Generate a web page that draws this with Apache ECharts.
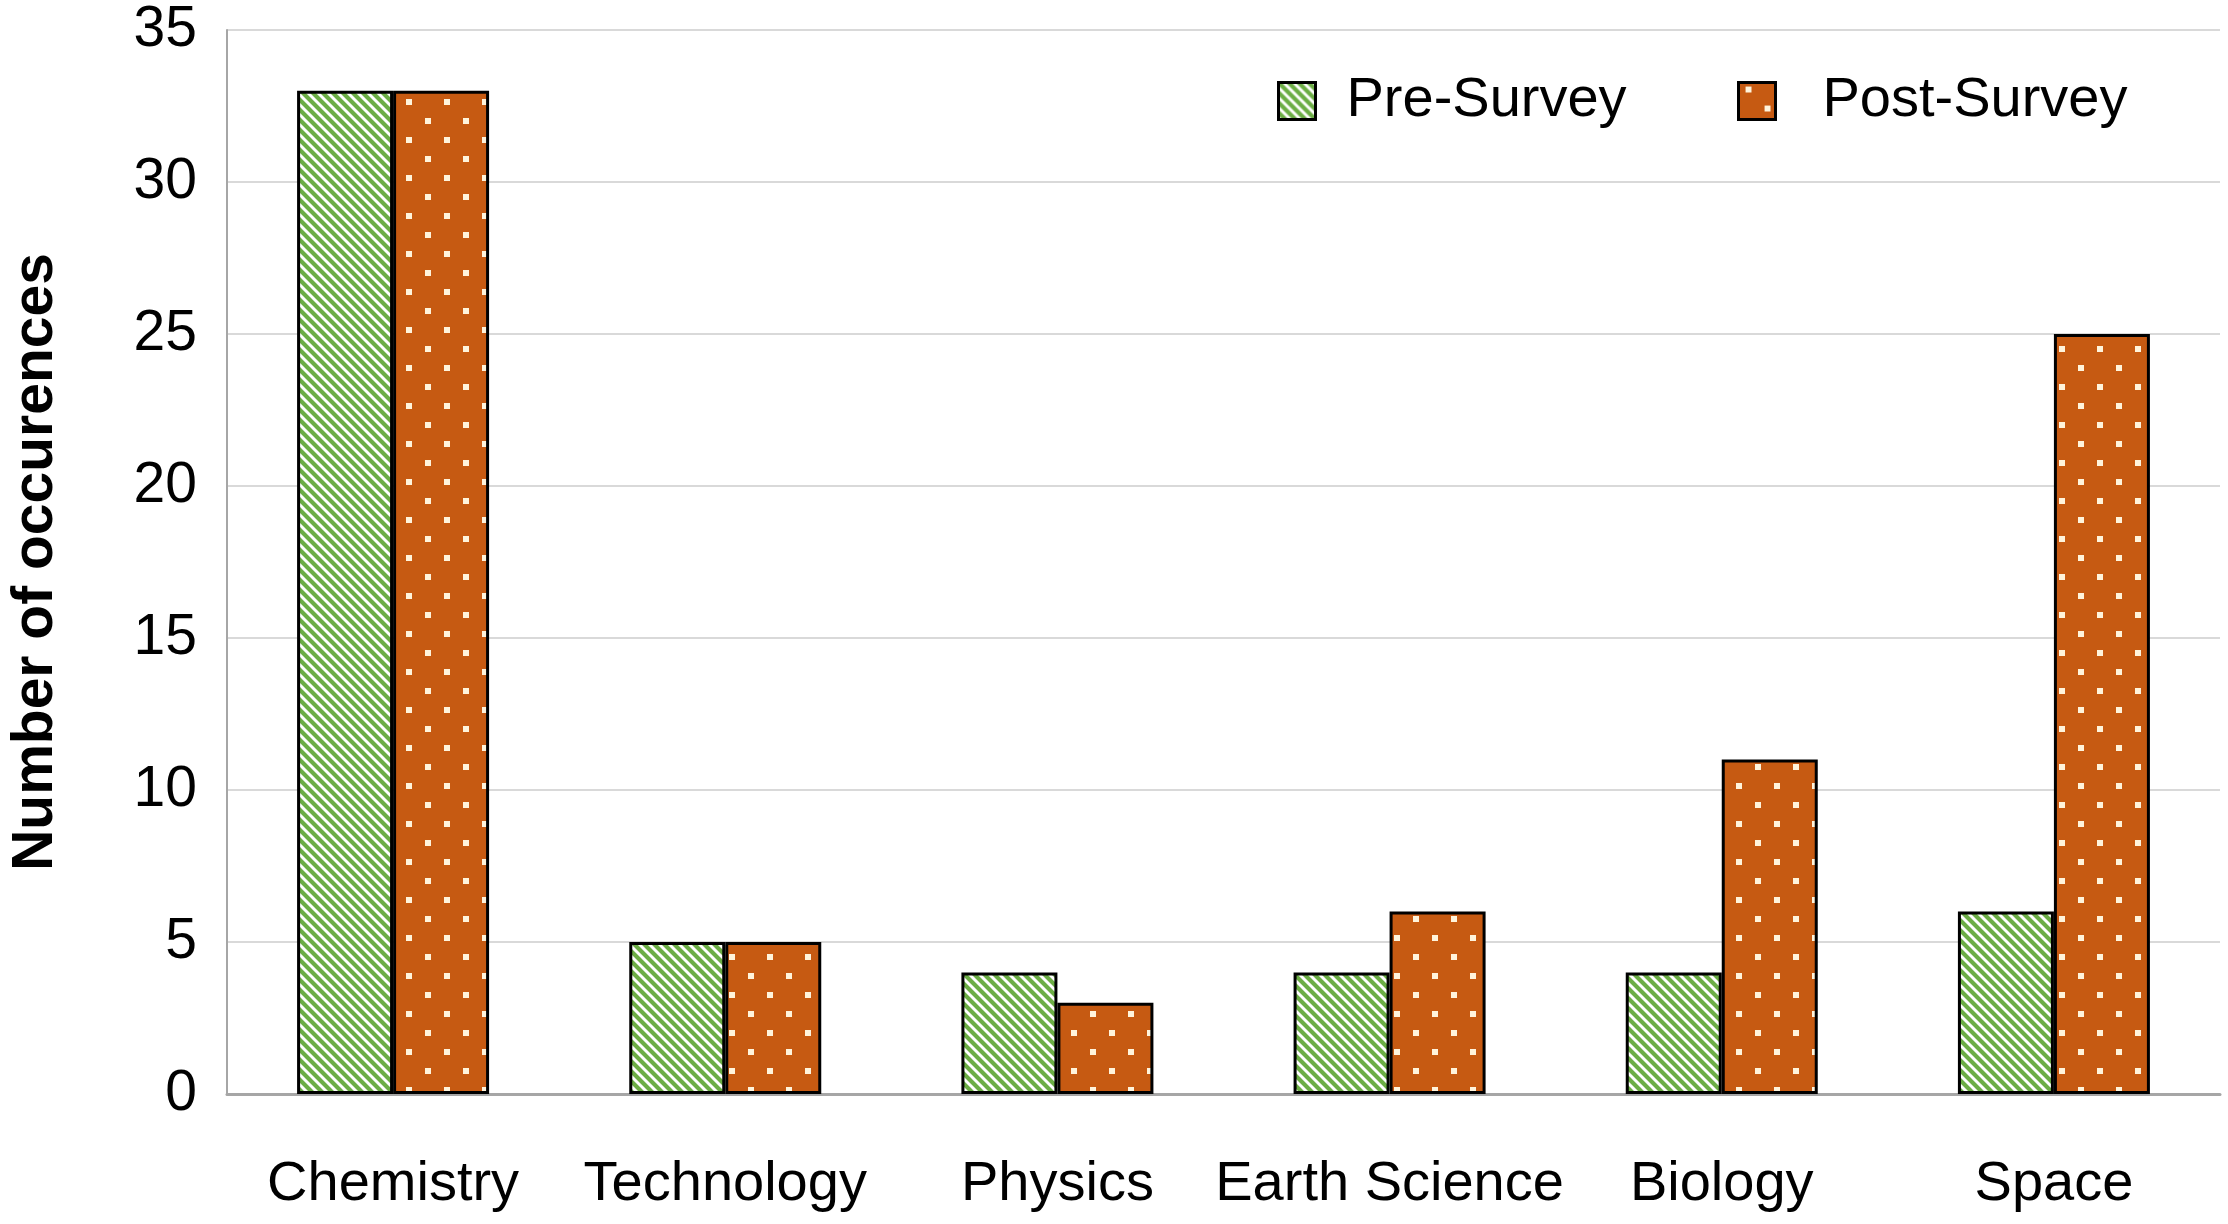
<!DOCTYPE html>
<html>
<head>
<meta charset="utf-8">
<script src="https://cdn.jsdelivr.net/npm/echarts@6/dist/echarts.min.js"></script>
<style>
html,body{margin:0;padding:0;background:#fff;overflow:hidden;}
#chart{width:2228px;height:1224px;}
</style>
</head>
<body>
<div id="chart"></div>
<script>
const categories = ['Chemistry', 'Technology', 'Physics', 'Earth Science', 'Biology', 'Space'];
const preSurvey = [33, 5, 4, 4, 4, 6];
const postSurvey = [33, 5, 3, 6, 11, 25];
const yTicks = [0, 5, 10, 15, 20, 25, 30, 35];

function stripePattern() {
  const s = 10;
  const c = document.createElement('canvas');
  c.width = s; c.height = s;
  const g = c.getContext('2d');
  g.fillStyle = '#ffffff';
  g.fillRect(0, 0, s, s);
  g.strokeStyle = '#6cad45';
  g.lineWidth = 4.2;
  g.beginPath();
  g.moveTo(-s, 0); g.lineTo(s, 2 * s);
  g.moveTo(0, 0); g.lineTo(s, s);
  g.moveTo(0, -s); g.lineTo(2 * s, s);
  g.stroke();
  return c;
}
function dotPattern() {
  const w = 38, h = 38;
  const c = document.createElement('canvas');
  c.width = w; c.height = h;
  const g = c.getContext('2d');
  g.fillStyle = '#c65a12';
  g.fillRect(0, 0, w, h);
  g.fillStyle = '#fff4dc';
  g.fillRect(7, 4, 6, 6);
  g.fillRect(26, 23, 6, 6);
  return c;
}

const font = "'Liberation Sans', Arial, Helvetica, sans-serif";
const chart = echarts.init(document.getElementById('chart'), null, {renderer: 'canvas'});
chart.setOption({
  backgroundColor: '#ffffff',
  animation: false,
  textStyle: {fontFamily: font, color: '#000'},
  legend: [
    {
      data: [{name: 'Pre-Survey', icon: 'rect'}],
      left: 1272, top: 68,
      itemWidth: 37, itemHeight: 37,
      itemStyle: {borderColor: '#000', borderWidth: 3},
      textStyle: {fontSize: 56, color: '#000', fontFamily: font, padding: [0, 0, 0, 26]}
    },
    {
      data: [{name: 'Post-Survey', icon: 'rect'}],
      left: 1732, top: 68,
      itemWidth: 37, itemHeight: 37,
      itemStyle: {borderColor: '#000', borderWidth: 3},
      textStyle: {fontSize: 56, color: '#000', fontFamily: font, padding: [0, 0, 0, 42]}
    }
  ],
  grid: {left: 217, right: 8, top: 30, bottom: 130, containLabel: false},
  xAxis: {
    type: 'category',
    data: categories,
    axisLine: {show: true, lineStyle: {color: '#a6a6a6', width: 3}},
    axisTick: {show: false},
    axisLabel: {fontSize: 56, color: '#000', fontFamily: font, margin: 63, interval: 0}
  },
  yAxis: {
    type: 'value',
    min: 0, max: 35, interval: 5,
    name: 'Number of occurences',
    nameLocation: 'middle',
    nameGap: 162,
    nameTextStyle: {fontSize: 57, fontWeight: 'bold', color: '#000', fontFamily: font},
    axisLine: {show: true, lineStyle: {color: '#a6a6a6', width: 2}},
    axisTick: {show: false},
    axisLabel: {
      fontSize: 57, color: '#000', fontFamily: font, margin: 30,
      formatter: function (v) { return yTicks.indexOf(v) >= 0 ? String(v) : ''; }
    },
    splitLine: {show: true, lineStyle: {color: '#d9d9d9', width: 2}}
  },
  series: [
    {
      name: 'Pre-Survey',
      type: 'bar',
      data: preSurvey,
      barWidth: 96,
      barGap: '0%',
      itemStyle: {
        color: {image: stripePattern(), repeat: 'repeat'},
        borderColor: '#000', borderWidth: 3
      }
    },
    {
      name: 'Post-Survey',
      type: 'bar',
      data: postSurvey,
      barWidth: 96,
      barGap: '0%',
      itemStyle: {
        color: {image: dotPattern(), repeat: 'repeat'},
        borderColor: '#000', borderWidth: 3
      }
    }
  ]
});
</script>
</body>
</html>
